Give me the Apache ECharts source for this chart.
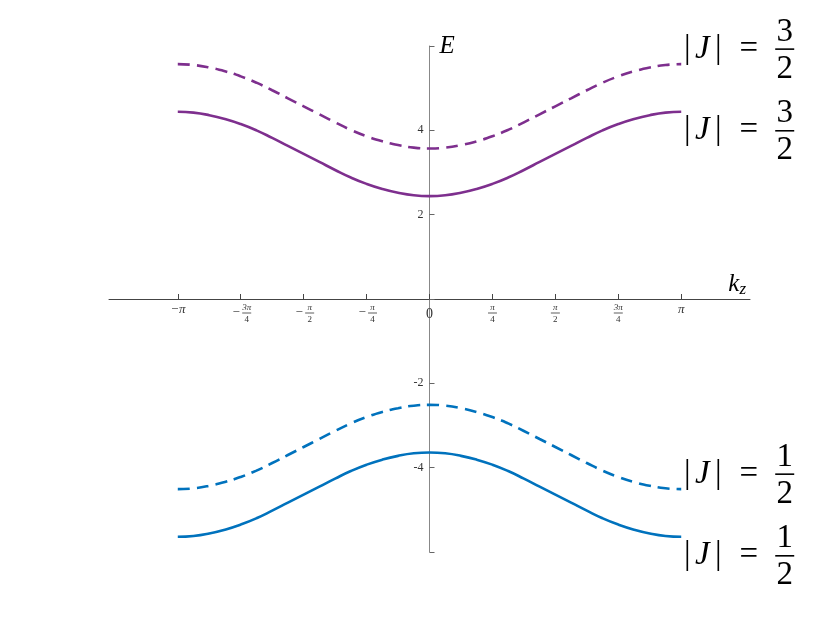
<!DOCTYPE html>
<html>
<head>
<meta charset="utf-8">
<script src="https://cdn.jsdelivr.net/npm/echarts@6/dist/echarts.min.js"></script>
<style>
  html, body { margin: 0; padding: 0; background: #fff; }
  #main { width: 830px; height: 623px; }
</style>
</head>
<body>
<div id="main"></div>
<script>
// sample points k_z (multiples of pi/16)
const kz = [-3.1416, -2.9452, -2.7489, -2.5525, -2.3562, -2.1598, -1.9635, -1.7671, -1.5708,
            -1.3744, -1.1781, -0.9817, -0.7854, -0.5890, -0.3927, -0.1963, 0,
            0.1963, 0.3927, 0.5890, 0.7854, 0.9817, 1.1781, 1.3744, 1.5708,
            1.7671, 1.9635, 2.1598, 2.3562, 2.5525, 2.7489, 2.9452, 3.1416]

// energies
const purpleDashed = [5.57, 5.55, 5.49, 5.40, 5.28, 5.13, 4.95, 4.76, 4.57, 4.38, 4.19, 4.01, 3.86, 3.74, 3.65, 3.59, 3.57,
                      3.59, 3.65, 3.74, 3.86, 4.01, 4.19, 4.38, 4.57, 4.76, 4.95, 5.13, 5.28, 5.40, 5.49, 5.55, 5.57]
const purpleSolid = [4.44, 4.42, 4.36, 4.27, 4.15, 4.00, 3.82, 3.63, 3.44, 3.25, 3.06, 2.88, 2.73, 2.61, 2.52, 2.46, 2.44,
                     2.46, 2.52, 2.61, 2.73, 2.88, 3.06, 3.25, 3.44, 3.63, 3.82, 4.00, 4.15, 4.27, 4.36, 4.42, 4.44]
const blueDashed = [-4.51, -4.49, -4.43, -4.34, -4.22, -4.07, -3.89, -3.70, -3.51, -3.32, -3.13, -2.95, -2.80, -2.68, -2.59, -2.53, -2.51,
                    -2.53, -2.59, -2.68, -2.80, -2.95, -3.13, -3.32, -3.51, -3.70, -3.89, -4.07, -4.22, -4.34, -4.43, -4.49, -4.51]
const blueSolid = [-5.64, -5.62, -5.56, -5.47, -5.35, -5.20, -5.02, -4.83, -4.64, -4.45, -4.26, -4.08, -3.93, -3.81, -3.72, -3.66, -3.64,
                   -3.66, -3.72, -3.81, -3.93, -4.08, -4.26, -4.45, -4.64, -4.83, -5.02, -5.20, -5.35, -5.47, -5.56, -5.62, -5.64]

// x ticks
const tickVals = [-3.1416, -2.3562, -1.5708, -0.7854, 0, 0.7854, 1.5708, 2.3562, 3.1416]
const tickLabels = ['−π', '−3π/4', '−π/2', '−π/4', '0', 'π/4', 'π/2', '3π/4', 'π']
const yShown = [-4, -2, 2, 4]

const PURPLE = '#7E2F8E'
const BLUE = '#0072BD'
const SERIF = '"Liberation Serif", "DejaVu Serif", serif'

let myChart = echarts.init(document.getElementById('main'))

// x tick label as rich text (stacked fractions)
const xLabel = value => {
    let i = tickVals.findIndex(v => Math.abs(v - value) < 1e-3)
    if (i < 0) return ''
    let t = tickLabels[i]
    if (t === '0') return '{zero|0}'
    if (t.indexOf('/') < 0) return '{pl|' + t + '}'
    let neg = t[0] === '−'
    let parts = (neg ? t.slice(1) : t).split('/')
    if (neg) {
        return '{sp| }{num|' + parts[0] + '}\n{neg|−}{bar| }\n{sp| }{den|' + parts[1] + '}'
    }
    return '{num|' + parts[0] + '}\n{bar| }\n{den|' + parts[1] + '}'
}

// |J| = n/2 label
const jLabel = num => '{pad| }{n1|' + num + '}\n{bl||}{ji|J}{bl2||}{eq|=}{bar| }\n{pad3| }{n3|2}'
const jRich = {
    pad: { width: 91, lineHeight: 16 },
    n1: { fontFamily: SERIF, fontSize: 33, width: 19, align: 'center', lineHeight: 16, color: '#000' },
    bl: { fontFamily: SERIF, fontSize: 33, width: 6, align: 'center', lineHeight: 18, color: '#000' },
    ji: { fontFamily: SERIF, fontSize: 33, fontStyle: 'italic', width: 24, align: 'center', lineHeight: 18, color: '#000' },
    bl2: { fontFamily: SERIF, fontSize: 33, width: 8, align: 'center', lineHeight: 18, color: '#000' },
    eq: { fontFamily: SERIF, fontSize: 33, width: 53, align: 'center', lineHeight: 18, color: '#000' },
    bar: { width: 19, height: 1.6, lineHeight: 18, backgroundColor: '#000' },
    pad3: { width: 91, lineHeight: 22 },
    n3: { fontFamily: SERIF, fontSize: 33, width: 19, align: 'center', lineHeight: 22, color: '#000' }
}

const makeSeries = (data, color, dashed, num, dy) => ({
    type: 'line',
    data: kz.map((k, i) => [k, data[i]]),
    showSymbol: false,
    smooth: true,
    lineStyle: { color, width: 2.6, type: dashed ? [12, 7] : 'solid' },
    itemStyle: { color },
    endLabel: {
        show: true,
        distance: 3,
        offset: [0, dy],
        align: 'left',
        verticalAlign: 'middle',
        formatter: () => jLabel(num),
        rich: jRich
    },
    silent: true
})

myChart.setOption({
    backgroundColor: '#fff',
    animation: false,
    grid: { left: 109, right: 80, top: 46, bottom: 71 },
    xAxis: {
        type: 'value',
        min: -4,
        max: 4,
        position: 'bottom',
        offset: -253,
        name: '{k|k}{z|z}',
        nameLocation: 'end',
        nameGap: 0,
        nameTextStyle: {
            align: 'right',
            verticalAlign: 'bottom',
            padding: [0, 4, 1, 0],
            rich: {
                k: { fontFamily: SERIF, fontStyle: 'italic', fontSize: 25, color: '#000' },
                z: { fontFamily: SERIF, fontStyle: 'italic', fontSize: 17, color: '#000', padding: [10, 0, 0, 0] }
            }
        },
        axisLine: { onZero: false, lineStyle: { color: '#444', width: 1 } },
        axisTick: { show: true, inside: true, length: 5, customValues: tickVals, lineStyle: { color: '#444' } },
        axisLabel: {
            customValues: tickVals,
            margin: 5,
            formatter: xLabel,
            rich: {
                pl: { fontFamily: SERIF, fontStyle: 'italic', fontSize: 13, lineHeight: 11, color: '#333' },
                zero: { fontFamily: SERIF, fontSize: 14, lineHeight: 20, color: '#333' },
                neg: { fontFamily: SERIF, fontSize: 13, width: 12, align: 'center', lineHeight: 2, color: '#333' },
                sp: { width: 12, lineHeight: 8 },
                num: { fontFamily: SERIF, fontStyle: 'italic', fontSize: 9, width: 10, align: 'center', lineHeight: 8, color: '#333' },
                bar: { width: 9, height: 0.8, lineHeight: 2, backgroundColor: '#333' },
                den: { fontFamily: SERIF, fontSize: 9, width: 10, align: 'center', lineHeight: 11, color: '#333' }
            }
        },
        splitLine: { show: false }
    },
    yAxis: {
        type: 'value',
        min: -6,
        max: 6,
        interval: 2,
        position: 'left',
        offset: -320.5,
        name: 'E',
        nameLocation: 'end',
        nameGap: 0,
        nameTextStyle: {
            fontFamily: SERIF,
            fontStyle: 'italic',
            fontSize: 25,
            color: '#000',
            align: 'left',
            verticalAlign: 'middle',
            padding: [0, 0, 0, 10]
        },
        axisLine: { onZero: false, lineStyle: { color: '#888', width: 1 } },
        axisTick: { show: true, inside: true, length: 5, lineStyle: { color: '#666' } },
        axisLabel: {
            margin: 6,
            fontFamily: SERIF,
            fontSize: 12,
            color: '#333',
            formatter: v => yShown.indexOf(v) >= 0 ? String(v) : ''
        },
        splitLine: { show: false }
    },
    series: [
        makeSeries(purpleDashed, PURPLE, true, '3', -12),
        makeSeries(purpleSolid, PURPLE, false, '3', 22),
        makeSeries(blueDashed, BLUE, true, '1', -12),
        makeSeries(blueSolid, BLUE, false, '1', 22)
    ]
})
</script>
</body>
</html>
